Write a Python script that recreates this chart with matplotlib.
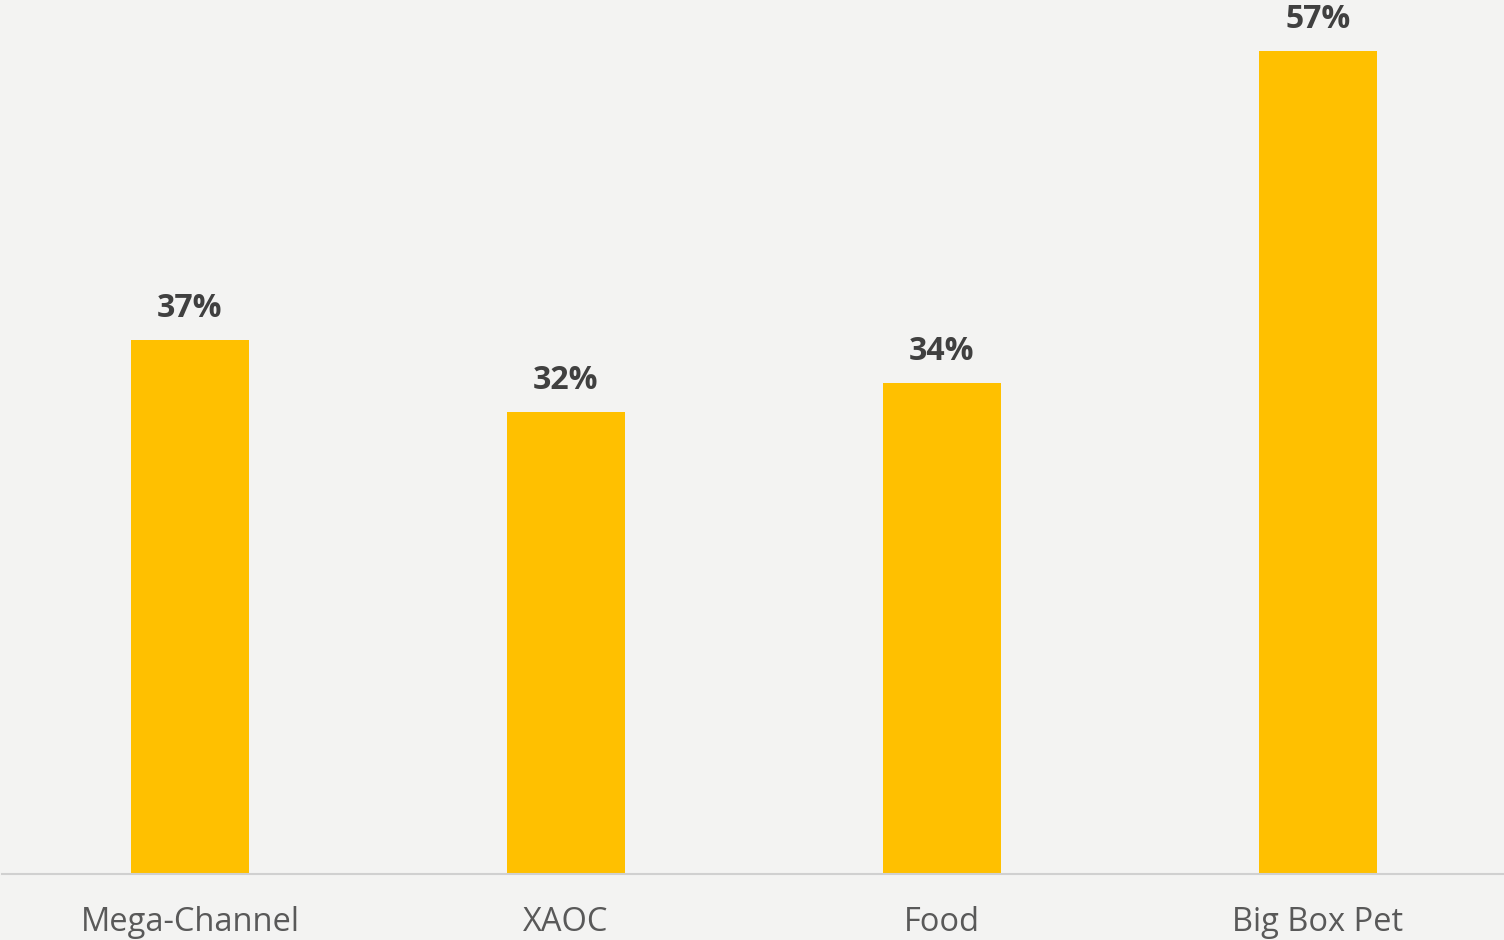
import matplotlib
matplotlib.use("Agg")
import matplotlib.pyplot as plt

categories = ["Mega-Channel", "XAOC", "Food", "Big Box Pet"]
values = [37, 32, 34, 57]
value_labels = ["37%", "32%", "34%", "57%"]

plt.rcParams['font.family'] = ['Open Sans', 'DejaVu Sans']

bg = "#f3f3f2"
fig = plt.figure(figsize=(15.04, 9.40), dpi=100, facecolor=bg)
ax = fig.add_axes([2/1504, 66/940, 1504/1504, 866/940])
ax.set_facecolor(bg)

x = range(len(categories))
bars = ax.bar(x, values, width=0.314, color="#ffc000", zorder=2)
ax.set_xlim(-0.5, 3.5)
ax.set_ylim(0, 60)

for xi, v, lab in zip(x, values, value_labels):
    ax.annotate(lab, (xi, v), xytext=(0, 11), textcoords="offset points",
                ha="center", va="bottom", fontsize=23, fontweight="bold",
                color="#404040")

ax.set_xticks(list(x))
ax.set_xticklabels(categories, fontsize=23.5, color="#595959")
ax.tick_params(axis="x", length=0, pad=23)
ax.set_yticks([])
for s in ["top", "right", "left"]:
    ax.spines[s].set_visible(False)
ax.spines["bottom"].set_color("#d0d0d0")
ax.spines["bottom"].set_linewidth(1.5)

fig.savefig("out.png", dpi=100, facecolor=bg)
